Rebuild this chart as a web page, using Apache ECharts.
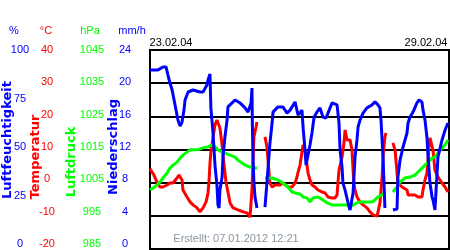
<!DOCTYPE html>
<html><head><meta charset="utf-8">
<script src="https://cdn.jsdelivr.net/npm/echarts@6/dist/echarts.min.js"></script>
<style>html,body{margin:0;padding:0;background:#fff}#c{width:450px;height:250px}</style>
</head><body><div id="c"></div><script>
// x values: hours since 23.02.04 00:00 (7 days = 168 h)
const humidity = [
[0,90],[4.5,90],[7.3,91.5],[9,91.5],[10.1,87.4],[11.2,83.4],[12.4,80],[13.5,75],[14.6,70],[15.7,64.8],[16.9,61.8],[17.4,60.8],[18,63.8],[19.1,69.8],[19.7,74.9],[21.4,78.9],[24.2,79.9],[28.1,78.9],[29.8,78.9],[32,82.4],[32.6,84.9],[33.7,87.9],
[34.2,70.9],[34.8,64.8],[35.4,58.3],[36,49.7],[36.5,42.2],[37.6,32.2],[38.2,22.1],[38.8,20.6],[39.3,29.6],[40.5,36.2],[41,46.2],[42.1,56.3],[43.3,64.8],[43.8,71.4],[46.1,73.4],[47.8,74.9],[50.6,73.4],[53.4,70.9],[55.1,68.8],[56.8,73.4],[57.3,80.9],[57.5,63.8],[57.9,44.7],[58.4,33.2],[59,26.1],[60.1,20.6],
[62,null],
[64.6,21.1],[65.7,33.2],[67.4,53.3],[68.6,63.3],[69.1,68.8],[71.9,71.4],[74.7,71.4],[77,68.3],[78.7,69.8],[81.5,73.9],[83.2,67.3],[84.3,66.3],[85.4,69.8],[86,61.3],[87.1,49.7],[87.7,42.2],[88.8,47.2],[89.9,52.3],[91,58.3],[92.2,66.3],[93.8,68.8],[95.5,70.9],[97.2,66.3],[98.9,65.8],[100,68.3],[102.3,73.4],[105.1,72.4],[105.6,71.4],[106.2,63.3],[106.8,49.7],[107.9,41.2],[108.4,33.2],[109.6,29.6],[111.3,23.1],[112.4,19.6],[113.5,19.6],[114.1,28.1],[115.2,46.2],[116.3,54.8],[116.9,61.3],[118,64.8],[119.7,68.3],[121.9,70.9],[124.7,72.4],[126.4,73.9],[128.1,72.4],[129.2,70.9],[129.8,64.8],[130.4,54.8],[131,44.7],[131.5,32.2],[132,20.6],
[134,null],
[136.5,19.6],[138.8,20.1],[139.3,36.2],[140.5,44.7],[142.2,51.3],[144.4,58.3],[145,63.3],[146.1,66.3],[147.8,68.8],[150,73.4],[151.2,74.9],[152.8,73.9],[153.4,69.8],[154.5,64.8],[155.6,56.3],[156.2,47.2],[157.3,33.2],[158.5,26.1],[159,24.6],[160.1,19.6],[161.3,38.2],[161.8,46.2],[164.1,54.8],[165.8,59.8],[167.4,63.3]
];
const temperature = [
[0,4.2],[1.1,3.8],[2.2,2.3],[3.9,0.2],[5.6,-1.3],[7.3,-1.3],[9.6,-0.7],[11.2,-0.1],[12.9,-0.1],[15.2,1.4],[16.3,2.3],[18,0.8],[18.5,-2.2],[20.8,-4.3],[22.5,-5.8],[24.2,-6.7],[26.4,-7.6],[28.1,-8.8],[29.8,-7.6],[31.5,-5.8],[32.6,-3.1],[33.2,0.8],[33.7,5.9],[34.3,9.8],[35.4,13.5],[36.5,17.4],[37.6,18.9],[38.2,19.5],[39.3,16.5],[40.5,11.4],[41.6,5.3],[42.7,0.2],[43.8,-2.8],[45,-6.1],[46.6,-7.6],[49.4,-8.2],[52.3,-8.8],[54.5,-9.1],[56.2,-10.4],[56.8,-10.7],[57.3,-2.2],[57.9,6.8],[58.4,13.8],[59.6,16.8],[60.1,18.3],
[62,null],
[64.6,13.8],[65.7,10.8],[66.3,6.8],[66.9,2.9],[67.4,-0.1],[68.6,-1.3],[70.2,-0.7],[73,-0.7],[74.7,-0.1],[77.5,-1.3],[79.8,-1.3],[81.5,-0.1],[82.6,1.7],[83.2,3.2],[84.3,5.3],[86,11.4],[87.1,9.8],[88.2,5.3],[88.8,2.9],[89.9,0.8],[91,-0.7],[92.7,-1.3],[94.4,-2.2],[96.6,-2.8],[98.3,-3.1],[100,-4.3],[102.3,-4.6],[104,-4.6],[105.1,-3.7],[105.6,-0.1],[106.2,3.8],[107.9,7.7],[109,12],[109.6,15.9],[110.7,12.9],[112.4,12.9],[113.5,9.8],[114.1,3.8],[114.6,-0.1],[115.2,-2.2],[116.3,-4.3],[118,-5.8],[119.7,-6.7],[121.9,-7.6],[123.6,-8.8],[125.3,-9.7],[127.6,-10.1],[129.2,-6.1],[130.4,1.7],[131,8.3],[132,13.8],[132.6,15],
[134.5,null],
[136.5,12],[137.7,9.8],[139.3,-0.1],[141.6,-1.3],[144.4,-2.2],[145,-3.7],[147.2,-3.7],[148.9,-3.7],[150.6,-4.3],[152.8,-4.3],[153.4,-2.2],[154.5,0.8],[155.6,2.9],[156.2,6.8],[156.8,12],[157.3,13.5],[159,9.8],[160.1,3.8],[161.8,1.7],[164.1,-0.1],[165.8,-1.3],[167.4,-2.8]
];
const pressure = [
[0,1002.8],[1.7,1003.4],[3.9,1004.3],[5.6,1005.2],[7.3,1006.4],[9.6,1007.9],[11.2,1009.4],[12.9,1010.3],[15.2,1011.2],[16.9,1012.4],[18.5,1013.3],[20.8,1014.2],[22.5,1014.9],[26.4,1014.9],[29.8,1015.5],[32.6,1015.8],[34.8,1016.4],[36.5,1015.8],[38.2,1014.9],[40.5,1014.2],[42.1,1013.9],[45,1013.3],[47.8,1012.7],[49.4,1011.8],[51.7,1010.9],[53.4,1010.3],[56.2,1009.7],[59,1009.4],[60.1,1009.4],
[62,null],
[64.6,1006.4],[68.6,1006.4],[71.9,1005.8],[74.7,1004.9],[77.5,1003.7],[79.8,1002.2],[81.5,1001.9],[84.3,1001.6],[86,1000.7],[88.2,1000.4],[89.9,999.2],[91.6,1000.4],[94.4,1000.7],[97.2,999.8],[99.5,998.9],[102.3,998.3],[105.1,998.3],[107.9,998.3],[110.7,998.3],[112.4,997.7],[114.1,998.3],[116.3,998.9],[118,999.2],[121.9,999.2],[124.7,999.2],[126.4,999.8],[128.1,1000.7],[130.4,1001.3],[132,1002.2],
[134,null],
[136.5,1002.2],[138.8,1003.7],[140.5,1005.2],[143.3,1006.4],[146.1,1006.7],[148.9,1007.3],[150.6,1008.2],[152.8,1009.4],[154.5,1010.3],[156.2,1011.2],[158.5,1012.4],[160.1,1012.7],[161.8,1013.9],[164.1,1015.5],[165.8,1016.4],[167.4,1017.9]
];
const humidityTicks = [0,25,50,75,100];
const temperatureTicks = [-20,-10,0,10,20,30,40];
const pressureTicks = [985,995,1005,1015,1025,1035,1045];
const rainTicks = [0,4,8,12,16,20,24];
const startDate = '23.02.04', endDate = '29.02.04';
const created = 'Erstellt: 07.01.2012 12:21';

const BLUE='#0000ff', RED='#ff0000', GREEN='#00ff00';
const FONT='Liberation Sans, Arial, sans-serif';
function labelAxis(ticks, color, offset){
  return {gridIndex:0, type:'value', position:'left', offset:offset,
    min:ticks[0], max:ticks[ticks.length-1], interval:ticks[1]-ticks[0],
    axisLine:{show:false}, axisTick:{show:false}, splitLine:{show:false},
    axisLabel:{color:color, fontSize:11, fontFamily:FONT, margin:0, align:'center',
      formatter:function(v){return String(v);}}};
}
function hiddenAxis(ticks){
  return {gridIndex:1, type:'value', show:false, min:ticks[0], max:ticks[ticks.length-1]};
}
function txt(text,x,y,color,opts){
  return Object.assign({type:'text', x:x, y:y, silent:true,
    style:Object.assign({text:text, fill:color, font:'11px '+FONT, align:'center', verticalAlign:'middle', textAlign:'center', textVerticalAlign:'middle'}, (opts&&opts.style)||{})},
    opts&&opts.rotation!==undefined?{rotation:opts.rotation}:{});
}
const chart = echarts.init(document.getElementById('c'), null, {renderer:'canvas'});
chart.setOption({
  animation:false,
  backgroundColor:'#fff',
  grid:[
    {left:150, top:50, width:299, height:194, show:false},
    {left:150, top:50, width:299, height:199, show:true, borderColor:'#000', borderWidth:2, backgroundColor:'transparent'}
  ],
  xAxis:[
    {gridIndex:0, type:'value', min:0, max:168, show:false},
    {gridIndex:1, type:'value', min:0, max:168, show:false}
  ],
  yAxis:[
    labelAxis(humidityTicks, BLUE, 130),
    labelAxis(temperatureTicks, RED, 103),
    labelAxis(pressureTicks, GREEN, 58),
    labelAxis(rainTicks, BLUE, 25),
    hiddenAxis(humidityTicks),
    {gridIndex:1, type:'value', position:'left', min:temperatureTicks[0], max:temperatureTicks[temperatureTicks.length-1], interval:10,
      axisLine:{show:false}, axisTick:{show:false}, axisLabel:{show:false},
      splitLine:{show:true, lineStyle:{color:'#000', width:2}}},
    hiddenAxis(pressureTicks)
  ],
  series:[
    {type:'line', name:'Temperatur', xAxisIndex:1, yAxisIndex:5, data:temperature, showSymbol:false, connectNulls:false,
      lineStyle:{color:RED, width:3}, itemStyle:{color:RED}},
    {type:'line', name:'Luftdruck', xAxisIndex:1, yAxisIndex:6, data:pressure, showSymbol:false, connectNulls:false,
      lineStyle:{color:GREEN, width:3}, itemStyle:{color:GREEN}},
    {type:'line', name:'Luftfeuchtigkeit', xAxisIndex:1, yAxisIndex:4, data:humidity, showSymbol:false, connectNulls:false,
      lineStyle:{color:BLUE, width:3}, itemStyle:{color:BLUE}}
  ],
  graphic:[
    txt('%',14,31,BLUE),
    txt('°C',46,31,RED),
    txt('hPa',90,31,GREEN),
    txt('mm/h',132,31,BLUE),
    txt(startDate,171,43,'#000'),
    txt(endDate,426,43,'#000'),
    txt(created,236,239,'#8c96a0'),
    txt('Luftfeuchtigkeit',8,140,BLUE,{rotation:Math.PI/2, style:{font:'bold 13px DejaVu Sans'}}),
    txt('Temperatur',36,157,RED,{rotation:Math.PI/2, style:{font:'bold 13px DejaVu Sans'}}),
    txt('Luftdruck',72,162,GREEN,{rotation:Math.PI/2, style:{font:'bold 13px DejaVu Sans'}}),
    txt('Niederschlag',114,147,BLUE,{rotation:Math.PI/2, style:{font:'bold 13px DejaVu Sans'}})
  ]
});
</script></body></html>
